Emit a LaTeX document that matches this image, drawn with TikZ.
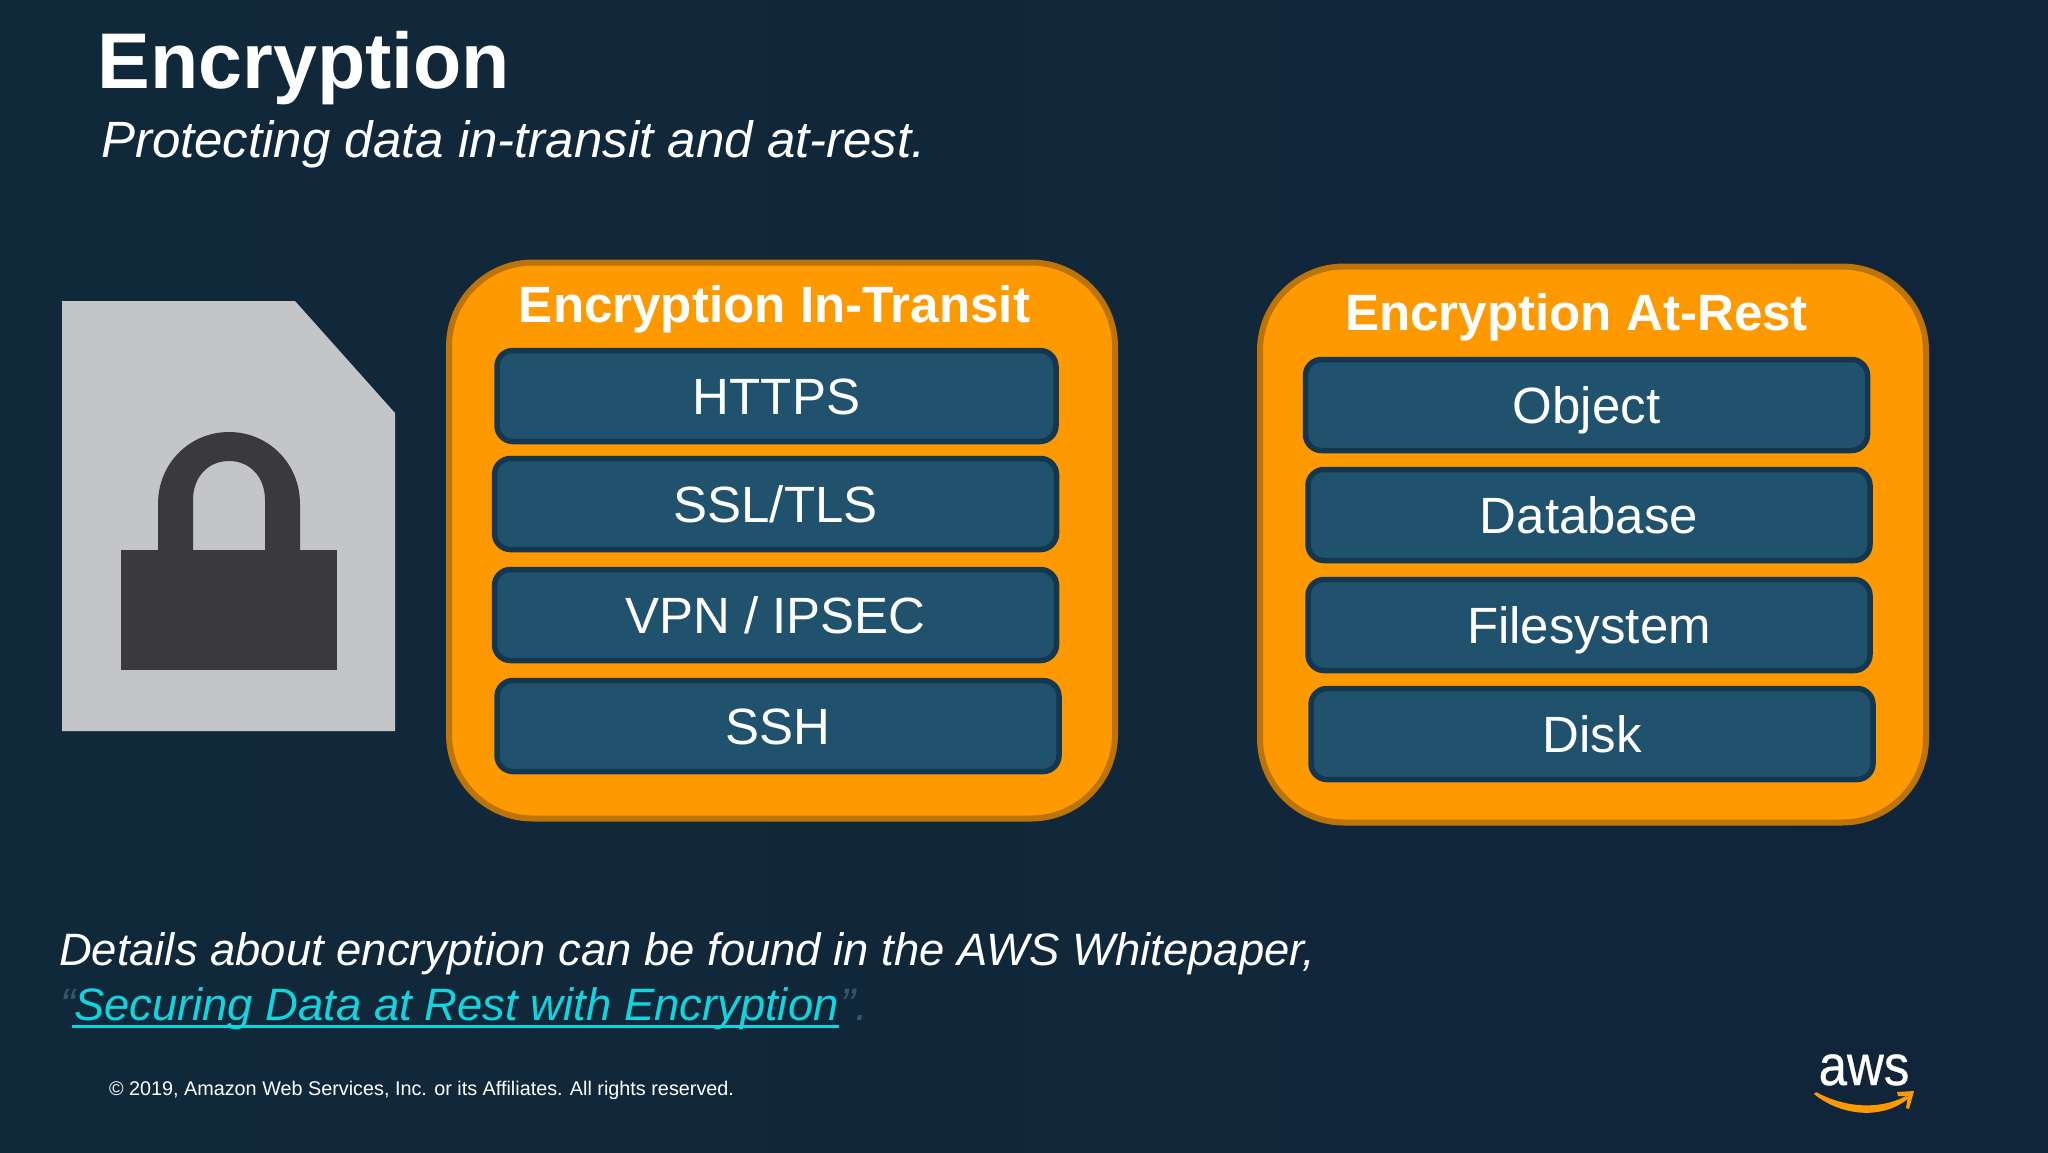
\documentclass[tikz,border=0pt]{standalone}
\usepackage{fontspec}
\setmainfont{Liberation Sans}
\definecolor{bgl}{HTML}{10293A}
\definecolor{bgr}{HTML}{11253A}
\definecolor{orangefill}{HTML}{FF9900}
\definecolor{orangeedge}{HTML}{BC7408}
\definecolor{boxfill}{HTML}{20526E}
\definecolor{boxedge}{HTML}{14374F}
\definecolor{linkc}{HTML}{0FD5DF}
\definecolor{dotc}{HTML}{35576B}
\definecolor{filegray}{HTML}{C4C5C7}
\definecolor{lockgray}{HTML}{3A3A3C}
\newcommand{\fs}[1]{\fontsize{#1}{#1}\selectfont}
\tikzset{
  x=1pt,y=-1pt,
  every node/.style={inner sep=0pt,outer sep=0pt,text=white},
  panel/.style={draw=orangeedge,line width=6pt,fill=orangefill,rounded corners=84pt,minimum width=666pt,minimum height=556pt},
  itembox/.style={draw=boxedge,line width=5.5pt,fill=boxfill,rounded corners=16pt,minimum width=559pt,minimum height=91pt,
    font=\fs{51},text height=36pt,text depth=0pt},
  paneltitle/.style={anchor=base,font=\fs{51.1}\bfseries},
  lefttext/.style={anchor=base west},
}
\begin{document}
\begin{tikzpicture}
\useasboundingbox (0,0) rectangle (2048,1152);
\shade[left color=bgl,right color=bgr] (0,0) rectangle (2048,1152);

% title
\node[lefttext,font=\fs{79}\bfseries] (title) at (97.5,88) {Encryption};
\node[lefttext,font=\fs{51}\itshape] (subtitle) at (101,157) {Protecting data in-transit and at-rest.};

% file and lock
\fill[filegray] (62,301) -- (295,301) -- (395,413) -- (395,731) -- (62,731) -- cycle;
\fill[lockgray] (121,550) rectangle (337,670);
\fill[lockgray,even odd rule]
  (158,550) -- (158,504) .. controls (158,463) and (190,432) .. (229,432) .. controls (268,432) and (300,463) .. (300,504) -- (300,550) -- cycle
  (193,550) -- (193,500) .. controls (193,477) and (208,461) .. (229,461) .. controls (250,461) and (265,477) .. (265,500) -- (265,550) -- cycle;

% in-transit
\node[panel] (transit) at (782,540.5) {};
\node[paneltitle] (transittitle) at (774.5,322) {Encryption In-Transit};
\node[itembox] (https) at (776.5,396) {HTTPS};
\node[itembox,minimum width=562pt] (ssl) at (775.5,504) {SSL/TLS};
\node[itembox,minimum width=562pt] (vpn) at (775.5,615) {VPN / IPSEC};
\node[itembox,minimum width=562pt] (ssh) at (778,726) {SSH};

% at-rest
\node[panel] (rest) at (1593,544.5) {};
\node[paneltitle] (resttitle) at (1576.5,330) {Encryption At-Rest};
\node[itembox,minimum width=562pt] (object) at (1586.5,405) {Object};
\node[itembox,minimum width=562pt] (database) at (1589,515) {Database};
\node[itembox,minimum width=562pt] (filesystem) at (1589,625) {Filesystem};
\node[itembox,minimum width=562pt] (disk) at (1592,734) {Disk};

% note
\node[lefttext,font=\fs{45.4}\itshape] (details) at (59,965) {Details about encryption can be found in the AWS Whitepaper,};
\node[lefttext,font=\fs{45.4}\itshape,text=dotc] (quoteopen) at (60,1020) {“};
\node[lefttext,font=\fs{45.4}\itshape,text=linkc] (link) at (74,1020) {Securing Data at Rest with Encryption};
\fill[linkc] (72,1024.5) rectangle (839,1028);
\node[lefttext,font=\fs{45.4}\itshape,text=dotc] (quoteclose) at (840,1020) {”.};

% footer
\node[lefttext,font=\fs{19.8}] (copy) at (109,1095) {© 2019, Amazon Web Services, Inc. or its Affiliates. All rights reserved.};

% aws logo
\node[anchor=base,font=\fs{51}] (aws) at (1864,1085) {\addfontfeature{FakeBold=0.6}\scalebox{1}[1.12]{aws}};
\fill[orangefill] (1814,1094) .. controls (1838,1114) and (1880,1122) .. (1909,1098)
  -- (1906,1096) .. controls (1880,1110) and (1845,1108) .. (1816,1092) -- cycle;
\fill[orangefill] (1897,1092) -- (1914,1091) -- (1909,1109) -- (1906,1108) -- (1908,1096) -- (1898,1096) -- cycle;
\end{tikzpicture}
\end{document}
